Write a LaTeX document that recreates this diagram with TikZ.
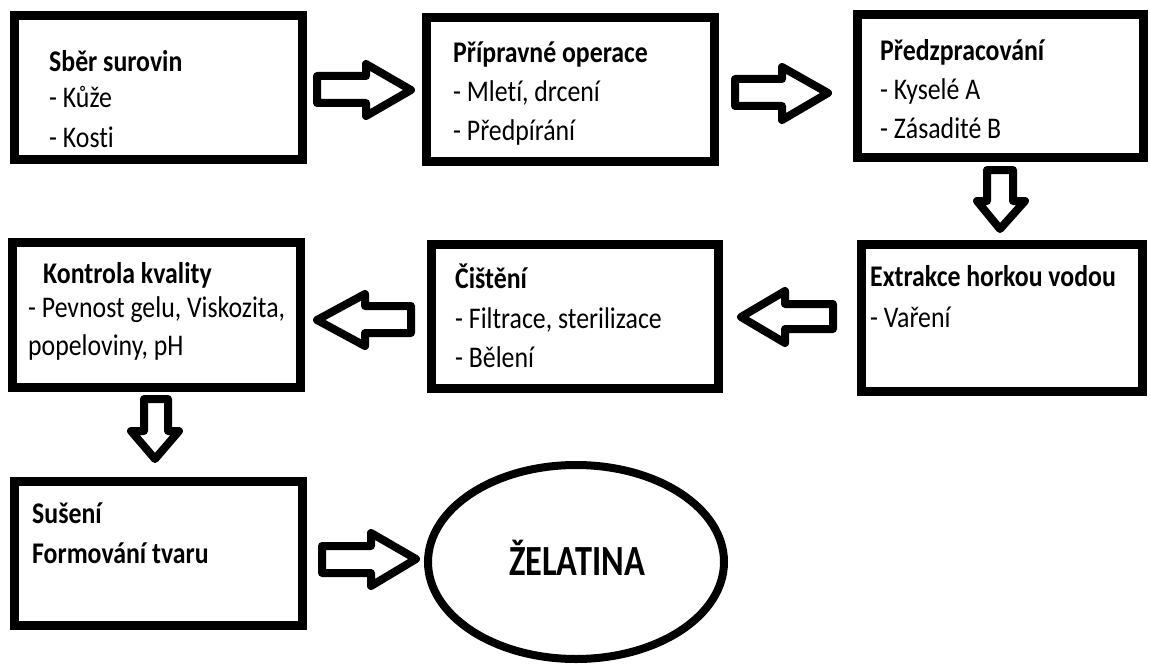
\documentclass[tikz,border=0pt]{standalone}
\usepackage{fontspec}
\setmainfont{Carlito}[FakeStretch=0.86, Ligatures=NoCommon]
\newfontfamily\zelfont{Carlito}[FakeStretch=0.8, Ligatures=NoCommon]
\usetikzlibrary{shapes.geometric}
\tikzset{
  box/.style={draw=black, line width=9pt, fill=white, rectangle, inner sep=0pt},
  oval/.style={draw=black, line width=8pt, ellipse, inner sep=0pt, minimum width=296pt, minimum height=194pt},
  txt/.style={anchor=base west, inner sep=0pt, font=\fontsize{30}{34}\selectfont},
  hd/.style={anchor=base west, inner sep=0pt, font=\fontsize{30}{34}\selectfont\bfseries},
  blk/.style={draw=black, line width=8pt, line join=round, fill=white}
}
\begin{document}
\begin{tikzpicture}[x=1pt, y=-1pt]
\useasboundingbox[fill=white] (0,0) rectangle (1150,666);
% boxes
\node[box, minimum width=288pt, minimum height=144pt] (b1) at (158.5,87.5) {};
\node[box, minimum width=288pt, minimum height=144pt] (b2) at (570.5,89.5) {};
\node[box, minimum width=286pt, minimum height=143pt] (b3) at (1000.5,86) {};
\node[box, minimum width=281pt, minimum height=147pt] (b4) at (1002,318) {};
\node[box, minimum width=287pt, minimum height=144pt] (b5) at (575,316.5) {};
\node[box, minimum width=288pt, minimum height=145pt] (b6) at (156.5,315) {};
\node[box, minimum width=288pt, minimum height=144pt] (b7) at (158.5,553.5) {};
\node[oval] (zel) at (576,562) {};
% texts
\node[hd] (t1a) at (49,72) {Sběr surovin};
\node[txt] (t1b) at (49,108) {- Kůže};
\node[txt] (t1c) at (49,147) {- Kosti};
\node[hd] (t2a) at (453,63) {Přípravné operace};
\node[txt] (t2b) at (453,102) {- Mletí, drcení};
\node[txt] (t2c) at (453,140) {- Předpírání};
\node[hd] (t3a) at (880,61) {Předzpracování};
\node[txt] (t3b) at (880,100) {- Kyselé A};
\node[txt] (t3c) at (880,139) {- Zásadité B};
\node[hd] (t4a) at (870,286) {Extrakce horkou vodou};
\node[txt] (t4b) at (870,327) {- Vaření};
\node[hd] (t5a) at (455,288) {Čištění};
\node[txt] (t5b) at (455,328) {- Filtrace, sterilizace};
\node[txt] (t5c) at (455,367) {- Bělení};
\node[hd] (t6a) at (43,283) {Kontrola kvality};
\node[txt] (t6b) at (28,317) {- Pevnost gelu, Viskozita,};
\node[txt] (t6c) at (28,355) {popeloviny, pH};
\node[hd] (t7a) at (32,523) {Sušení};
\node[hd] (t7b) at (32,563) {Formování tvaru};
\node[inner sep=0pt, anchor=base, font=\zelfont\fontsize{43}{47}\selectfont\bfseries] (t8) at (577,575) {ŽELATINA};
% block arrows
\draw[blk] (317,76) -- (366,76) -- (366,64) -- (411,90) -- (366,116) -- (366,103) -- (317,103) -- cycle;
\draw[blk] (735,79) -- (782,79) -- (782,67) -- (828,93) -- (782,120) -- (782,106) -- (735,106) -- cycle;
\draw[blk] (987,170) -- (987,201) -- (977,201) -- (1000,229) -- (1025,201) -- (1013,201) -- (1013,170) -- cycle;
\draw[blk] (833,304) -- (785,304) -- (785,291) -- (741,317) -- (785,343) -- (785,329) -- (833,329) -- cycle;
\draw[blk] (411,306) -- (365,306) -- (365,294) -- (317,320) -- (365,346) -- (365,333) -- (411,333) -- cycle;
\draw[blk] (144,399) -- (144,431) -- (131,431) -- (155,459) -- (179,431) -- (168,431) -- (168,399) -- cycle;
\draw[blk] (322,546) -- (371,546) -- (371,533) -- (416,559) -- (371,586) -- (371,573) -- (322,573) -- cycle;
\end{tikzpicture}
\end{document}
